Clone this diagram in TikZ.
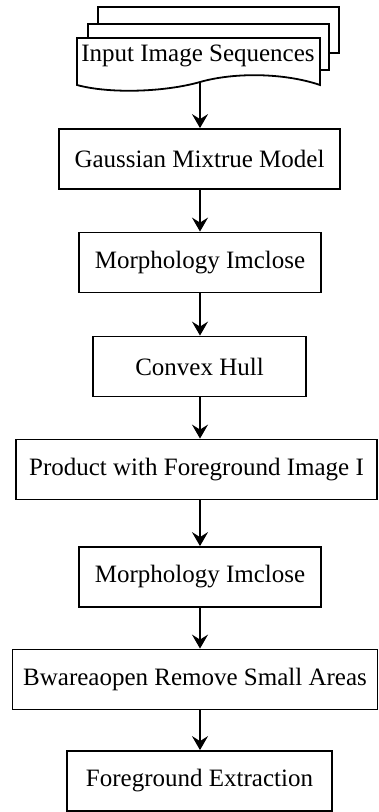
\documentclass[tikz,border=0pt]{standalone}
\usepackage{fontspec}
\setmainfont{Liberation Serif}
\usetikzlibrary{arrows.meta}
\begin{document}
\begin{tikzpicture}[x=1pt,y=-1pt,
  box/.style={draw,line width=1.8pt,fill=white,minimum height=60pt,inner sep=0pt,
    font=\fontsize{25}{30}\selectfont},
  arr/.style={line width=1.8pt,-{Stealth[length=14pt,width=16pt,inset=5pt]}},
  docline/.style={draw,line width=1.8pt,fill=white}]
\useasboundingbox[fill=white] (0,0) rectangle (379,812);
% stacked documents
\draw[docline] (98,7) rectangle (339,53);
\draw[docline] (88,24) rectangle (329,70);
\draw[docline] (77,38) -- (320,38) -- (320,85)
  .. controls (285,73) and (235,72) .. (200,82)
  .. controls (165,92) and (110,94) .. (77,85) -- cycle;
\node[font=\fontsize{25}{30}\selectfont,inner sep=0pt] (doc) at (198,56) {Input Image Sequences};
\coordinate (docb) at (200,82);
\coordinate (ax) at (200,0);
% boxes
\node[box,minimum width=281pt] (n2) at (199.5,159) {Gaussian Mixtrue Model};
\node[box,minimum width=242pt] (n3) at (200,262.5) {Morphology Imclose};
\node[box,minimum width=213pt] (n4) at (199.5,366.5) {Convex Hull};
\node[box,minimum width=361pt] (n5) at (196.5,469.5) {Product with Foreground Image I};
\node[box,minimum width=242pt] (n6) at (200,577) {Morphology Imclose};
\node[box,minimum width=365pt] (n7) at (195,679.5) {Bwareaopen Remove Small Areas};
\node[box,minimum width=265pt] (n8) at (199.5,781) {Foreground Extraction};
% arrows
\draw[arr] (docb) -- (n2.north -| ax);
\draw[arr] (n2.south -| ax) -- (n3.north -| ax);
\draw[arr] (n3.south -| ax) -- (n4.north -| ax);
\draw[arr] (n4.south -| ax) -- (n5.north -| ax);
\draw[arr] (n5.south -| ax) -- (n6.north -| ax);
\draw[arr] (n6.south -| ax) -- (n7.north -| ax);
\draw[arr] (n7.south -| ax) -- (n8.north -| ax);
\end{tikzpicture}
\end{document}
